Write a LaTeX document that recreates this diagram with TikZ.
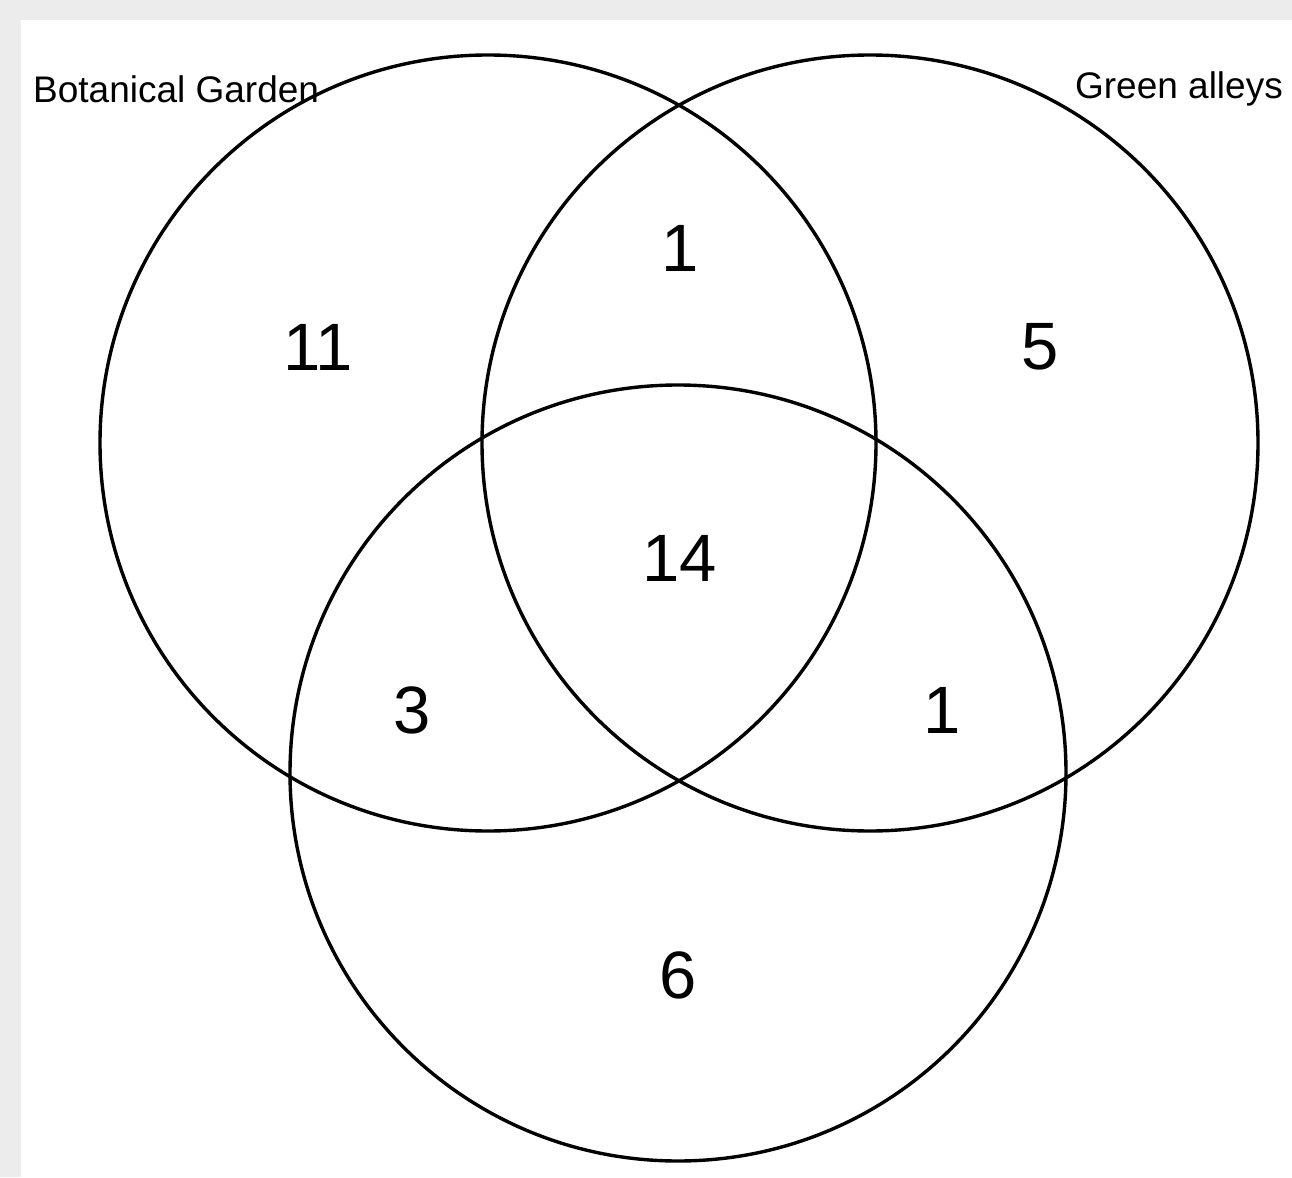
\documentclass[tikz,border=0pt]{standalone}
\usepackage{fontspec}
\setmainfont{Liberation Sans}
\begin{document}
\begin{tikzpicture}[x=1pt,y=-1pt,
  setcircle/.style={draw=black,line width=3.4pt},
  num/.style={font=\fontsize{67}{67}\selectfont,inner sep=0pt},
  lbl/.style={font=\fontsize{37}{37}\selectfont,inner sep=0pt}]
\fill[gray!15] (0,0) rectangle (1292,1177);
\fill[white] (21,20) rectangle (1292,1177);
\useasboundingbox (0,0) rectangle (1292,1177);
\draw[setcircle] (488,443) circle (388);
\draw[setcircle] (870,443) circle (388);
\draw[setcircle] (678,773) circle (388);
\node[lbl,anchor=west] (bg) at (33,89) {Botanical Garden};
\node[lbl,anchor=east] (ga) at (1283,89) {Green alleys};
\node[num] (n11) at (318,347) {11};
\node[num] (n1a) at (680,248) {1};
\node[num] (n5) at (1040,347) {5};
\node[num] (n14) at (680,558) {14};
\node[num] (n3) at (412,710) {3};
\node[num] (n1b) at (942,710) {1};
\node[num] (n6) at (678,975) {6};
\end{tikzpicture}
\end{document}
